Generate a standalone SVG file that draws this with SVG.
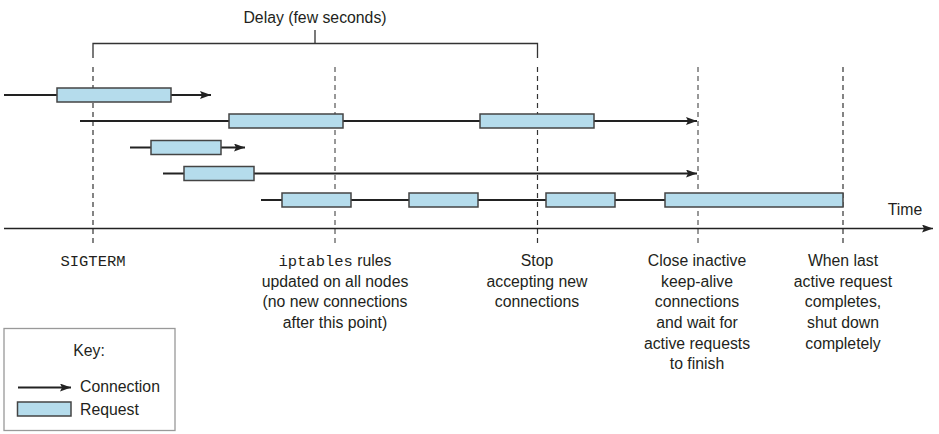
<svg xmlns="http://www.w3.org/2000/svg" width="939" height="434" viewBox="0 0 939 434">
<defs>
<marker id="ah" markerUnits="userSpaceOnUse" markerWidth="12" markerHeight="10" refX="11" refY="4" orient="auto">
<path d="M0,0 L11,4 L0,8 L2,4 Z" fill="#222"/>
</marker>
<style>
text{font-family:"Liberation Sans",Arial,sans-serif;font-size:15.8px;fill:#231f20}
.mono{font-family:"Liberation Mono","Courier New",monospace;font-size:15.5px}
.c{text-anchor:middle}
.conn{stroke:#222;stroke-width:2;fill:none}
.req{fill:#b5dcec;stroke:#444;stroke-width:1.5}
.dash{stroke:#333;stroke-width:1.2;stroke-dasharray:5 4;fill:none}
.dashg{stroke:#777;stroke-width:1.5;stroke-dasharray:5 4;fill:none}
</style>
</defs>
<rect width="939" height="434" fill="#fff"/>

<g id="delay">
<path d="M93,58 V43.5 H537.5 V58 M315,30 V43.5" fill="none" stroke="#333" stroke-width="1.3"/>
<text x="315" y="23" class="c">Delay (few seconds)</text>
</g>

<g id="markers">
<line x1="93" y1="67" x2="93" y2="246" class="dash"/>
<line x1="335" y1="67" x2="335" y2="246" class="dashg"/>
<line x1="537.5" y1="67" x2="537.5" y2="246" class="dash"/>
<line x1="698" y1="67" x2="698" y2="246" class="dashg"/>
<line x1="843" y1="67" x2="843" y2="246" class="dash"/>
</g>

<g id="connectors">
<line x1="4" y1="95" x2="211" y2="95" class="conn" marker-end="url(#ah)"/>
<line x1="80" y1="121" x2="697" y2="121" class="conn" marker-end="url(#ah)"/>
<line x1="130" y1="147.5" x2="245" y2="147.5" class="conn" marker-end="url(#ah)"/>
<line x1="163" y1="173.5" x2="697" y2="173.5" class="conn" marker-end="url(#ah)"/>
<line x1="261" y1="200" x2="843" y2="200" class="conn"/>
<line x1="4" y1="228.5" x2="933" y2="228.5" stroke="#222" stroke-width="1.4" marker-end="url(#ah)"/>
</g>

<g id="requests">
<rect x="57" y="88" width="114" height="14" class="req"/>
<rect x="229" y="114" width="114" height="14" class="req"/>
<rect x="480" y="114" width="114" height="14" class="req"/>
<rect x="151" y="140.5" width="70" height="14" class="req"/>
<rect x="184" y="166.5" width="70" height="14" class="req"/>
<rect x="282" y="193" width="69" height="14" class="req"/>
<rect x="409" y="193" width="69" height="14" class="req"/>
<rect x="546" y="193" width="69" height="14" class="req"/>
<rect x="665" y="193" width="178" height="14" class="req"/>
</g>

<g id="time-label">
<text x="905" y="215" class="c">Time</text>
</g>

<g id="label-sigterm">
<text x="93" y="265.5" class="c mono">SIGTERM</text>
</g>
<g id="label-iptables">
<text x="335" y="265.5" class="c"><tspan class="mono">iptables</tspan> rules</text>
<text x="335" y="286.5" class="c">updated on all nodes</text>
<text x="335" y="307" class="c">(no new connections</text>
<text x="335" y="327.5" class="c">after this point)</text>
</g>
<g id="label-stop">
<text x="537" y="265.5" class="c">Stop</text>
<text x="537" y="286.5" class="c">accepting new</text>
<text x="537" y="307" class="c">connections</text>
</g>
<g id="label-close">
<text x="697" y="265.5" class="c">Close inactive</text>
<text x="697" y="286.5" class="c">keep-alive</text>
<text x="697" y="307" class="c">connections</text>
<text x="697" y="327.5" class="c">and wait for</text>
<text x="697" y="348.5" class="c">active requests</text>
<text x="697" y="369" class="c">to finish</text>
</g>
<g id="label-shutdown">
<text x="843" y="265.5" class="c">When last</text>
<text x="843" y="286.5" class="c">active request</text>
<text x="843" y="307" class="c">completes,</text>
<text x="843" y="327.5" class="c">shut down</text>
<text x="843" y="348.5" class="c">completely</text>
</g>

<g id="key">
<rect x="4" y="328.5" width="171" height="102" fill="#fff" stroke="#999" stroke-width="1.3"/>
<text x="89" y="355.5" class="c">Key:</text>
<line x1="18" y1="387.5" x2="71" y2="387.5" class="conn" marker-end="url(#ah)"/>
<text x="80" y="392">Connection</text>
<rect x="17.5" y="402" width="53.5" height="14" class="req"/>
<text x="80" y="415">Request</text>
</g>
</svg>
